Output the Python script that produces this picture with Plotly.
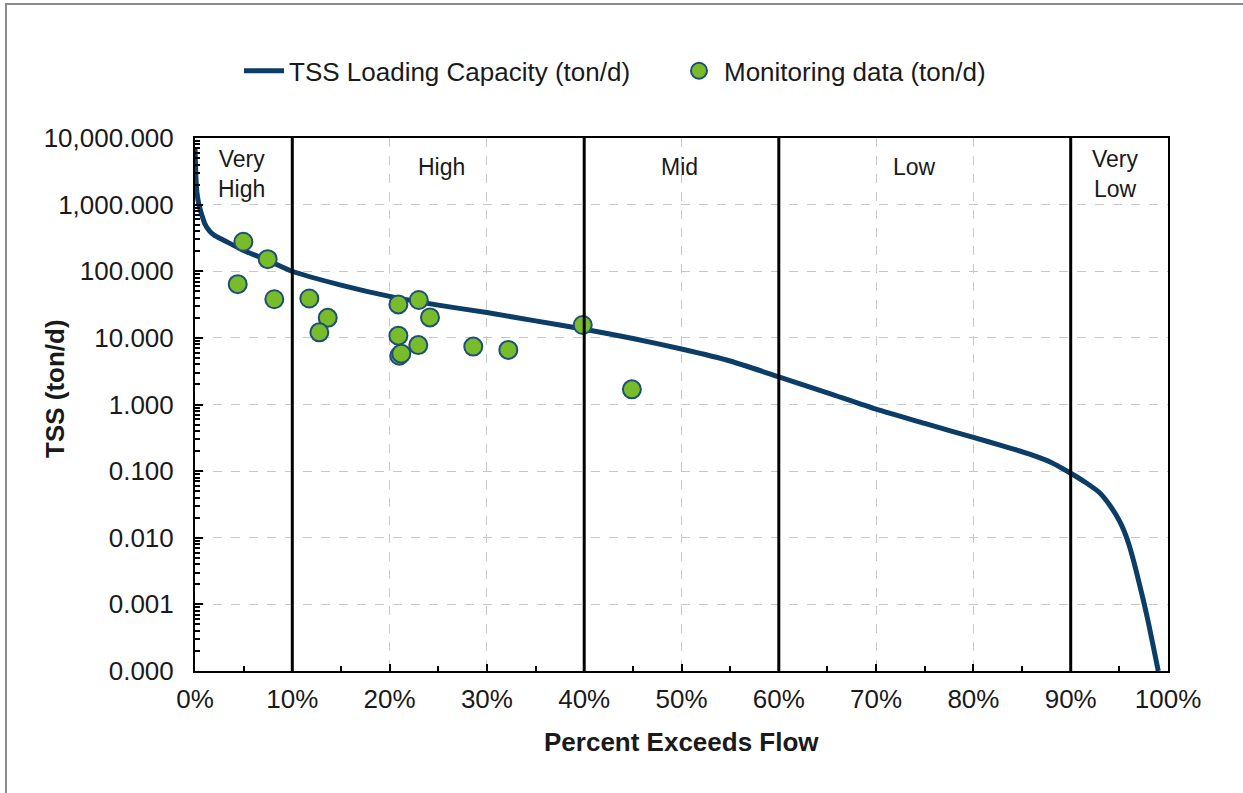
import plotly.graph_objects as go

# Load duration curve (TSS loading capacity, ton/d) vs percent exceedance
curve_pct = [0.0, 0.1, 0.2, 0.4, 0.7, 1.0, 1.5, 2.0, 3.0, 5.0, 7.5, 10, 15, 20, 25, 30, 35, 40, 45,
             50, 55, 60, 65, 70, 75, 80, 83, 86, 88, 90, 91.5, 93, 94, 95, 95.5, 96, 96.5, 97,
             97.5, 98, 98.5, 99]
curve_val = [7000, 2500, 1500, 1000, 700, 520, 400, 345, 290, 205, 145, 100, 62, 42, 31, 24, 18, 13.5, 9.8,
             6.8, 4.5, 2.6, 1.5, 0.85, 0.52, 0.32, 0.24, 0.175, 0.135, 0.093, 0.068, 0.047,
             0.031, 0.018, 0.0125, 0.0078, 0.0043, 0.0022, 0.0011, 0.00052, 0.00023, 0.0001]

# Monitoring data (ton/d)
obs_pct = [4.97, 7.47, 4.39, 8.15, 11.75, 13.64, 12.78, 20.9, 23.0, 24.15, 20.9, 21.0, 21.2, 22.95, 28.6, 32.2, 39.85, 44.9]
obs_val = [277, 152, 64, 38, 39, 20, 12.1, 31.8, 37, 20.3, 10.8, 5.4, 5.8, 7.8, 7.4, 6.6, 15.6, 1.69]

y_tickvals = [1e-4, 1e-3, 1e-2, 1e-1, 1, 10, 100, 1000, 10000]
y_ticktext = ["0.000", "0.001", "0.010", "0.100", "1.000", "10.000", "100.000", "1,000.000", "10,000.000"]
x_tickvals = [0, 10, 20, 30, 40, 50, 60, 70, 80, 90, 100]
x_ticktext = [f"{v}%" for v in x_tickvals]

zone_bounds = [10, 40, 60, 90]
zone_labels = ["Very<br>High", "High", "Mid", "Low", "Very<br>Low"]
zone_label_x = [4.8, 25.3, 49.8, 73.9, 94.6]

NAVY = "#0b3d66"
GREEN = "#78bc2a"
FONT = "Liberation Sans, Arial, sans-serif"

fig = go.Figure()
fig.add_trace(go.Scatter(
    x=[p / 100 for p in curve_pct], y=curve_val, mode="lines",
    line=dict(color=NAVY, width=5, shape="spline", smoothing=0.6),
    name="TSS Loading Capacity (ton/d)", legend="legend"))
fig.add_trace(go.Scatter(
    x=[p / 100 for p in obs_pct], y=obs_val, mode="markers",
    marker=dict(color=GREEN, size=18, line=dict(color="#1f4e79", width=2)),
    name="Monitoring data (ton/d)", legend="legend2"))

minor_y = [m * 10 ** k for k in range(-4, 4) for m in range(2, 10)]

leg_common = dict(orientation="h", yanchor="middle", y=1.126, xanchor="left",
                  font=dict(size=26), bgcolor="rgba(0,0,0,0)", itemwidth=40)

fig.update_layout(
    width=1243, height=793,
    margin=dict(l=195, r=75, t=138, b=122),
    paper_bgcolor="white", plot_bgcolor="white",
    font=dict(family=FONT, size=26, color="#1a1a1a"),
    showlegend=True,
    legend=dict(x=(239 - 195) / 973, **leg_common),
    legend2=dict(x=(674 - 195) / 973, **leg_common),
    xaxis=dict(range=[0, 1], tickvals=[v / 100 for v in x_tickvals], ticktext=x_ticktext,
               ticks="inside", ticklen=7, tickwidth=2, tickcolor="black",
               minor=dict(tickvals=[v / 100 for v in range(5, 100, 10)], ticks="inside",
                          ticklen=5, tickwidth=2, tickcolor="black", showgrid=False),
               showline=True, linecolor="black", linewidth=2, mirror=True,
               showgrid=True, gridcolor="#c8c8c8", griddash="dash", gridwidth=1,
               zeroline=False, ticklabelstandoff=4, tickfont=dict(size=26)),
    yaxis=dict(type="log", range=[-4, 4], tickvals=y_tickvals, ticktext=y_ticktext,
               ticks="inside", ticklen=8, tickwidth=2, tickcolor="black",
               minor=dict(tickvals=minor_y, ticks="inside", ticklen=5, tickwidth=1.5,
                          tickcolor="black", showgrid=False),
               showline=True, linecolor="black", linewidth=2, mirror=True,
               showgrid=True, gridcolor="#c8c8c8", griddash="dash", gridwidth=1,
               zeroline=False, ticklabelstandoff=14, tickfont=dict(size=26)),
)

# Zone boundary lines
for b in zone_bounds:
    fig.add_shape(type="line", xref="x", yref="paper", x0=b / 100, x1=b / 100, y0=0, y1=1,
                  line=dict(color="black", width=3), layer="above")

# Zone labels
for lab, lx in zip(zone_labels, zone_label_x):
    two = "<br>" in lab
    fig.add_annotation(x=lx / 100, xref="x", y=(671 - (174 if two else 167)) / 533, yref="paper",
                       text=lab, showarrow=False, font=dict(size=23, color="#1a1a1a"),
                       xanchor="center", yanchor="middle", align="center")

# Axis titles
fig.add_annotation(x=(681 - 195) / 973, xref="paper", y=(671 - 742) / 533, yref="paper",
                   text="<b>Percent Exceeds Flow</b>", showarrow=False,
                   font=dict(size=26, color="#1a1a1a"), xanchor="center", yanchor="middle")
fig.add_annotation(x=(55 - 195) / 973, xref="paper", y=(671 - 389) / 533, yref="paper",
                   text="<b>TSS (ton/d)</b>", showarrow=False, textangle=-90,
                   font=dict(size=26, color="#1a1a1a"), xanchor="center", yanchor="middle")

# Outer frame
fig.add_shape(type="rect", xref="paper", yref="paper",
              x0=(6 - 195) / 973, x1=(1260 - 195) / 973,
              y0=(671 - 810) / 533, y1=(671 - 4) / 533,
              line=dict(color="#8c8c8c", width=2), layer="below")

fig.write_html("out.html")
